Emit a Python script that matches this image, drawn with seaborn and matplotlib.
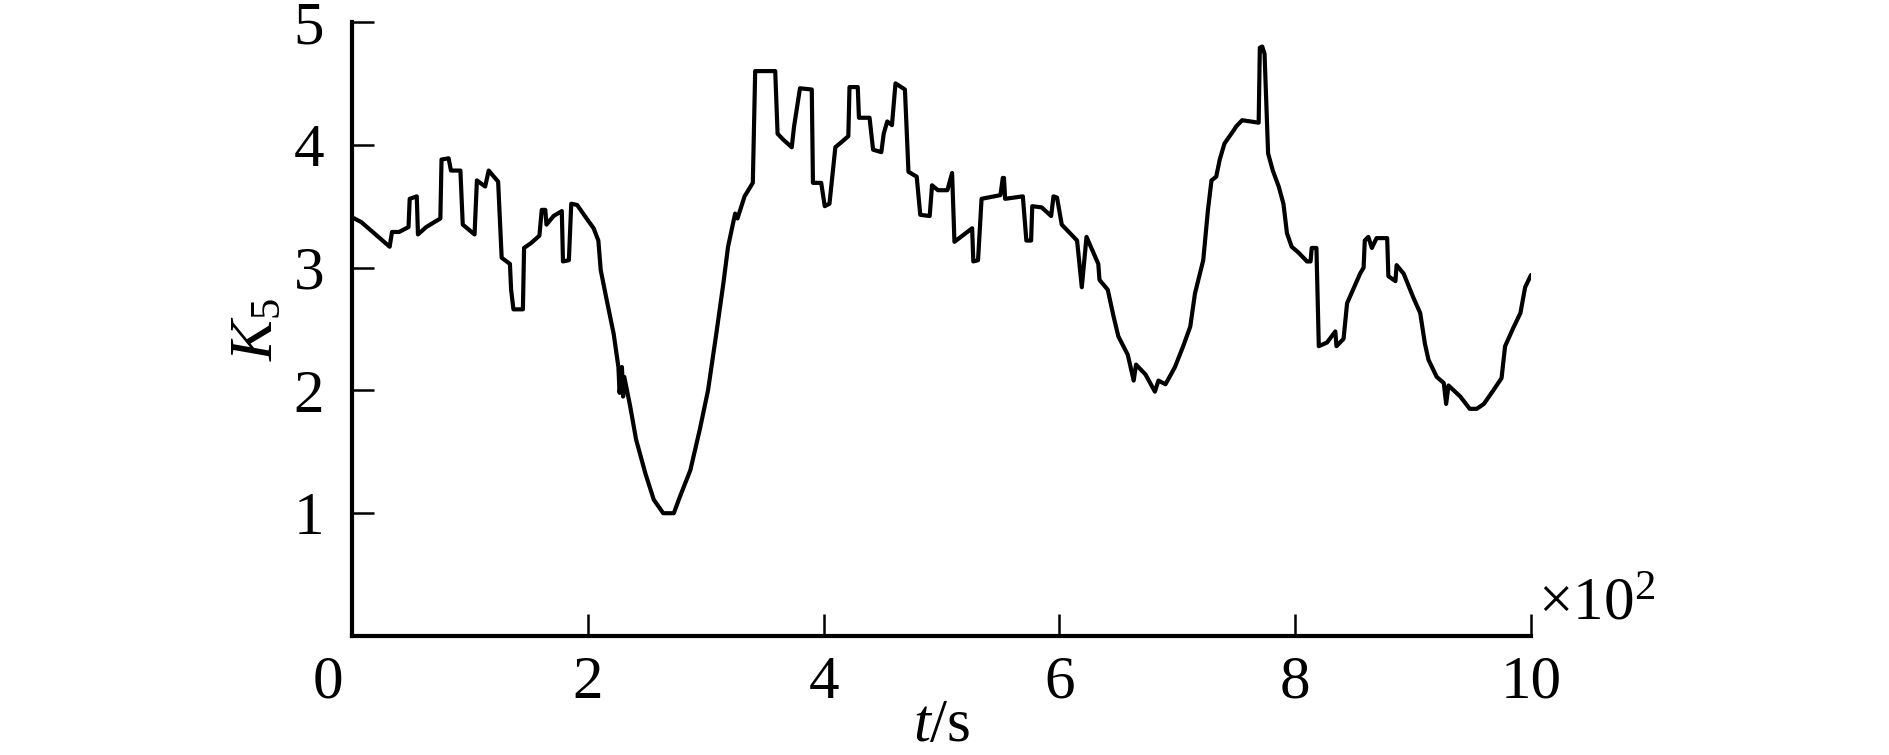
import matplotlib
matplotlib.use("Agg")
import matplotlib.pyplot as plt
import seaborn as sns
import pandas as pd

# time in units of 10^2 s
t_vals = [
    0.00, 0.08, 0.32, 0.34, 0.40, 0.48, 0.49, 0.55, 0.56, 0.63, 0.75, 0.76,
    0.82, 0.84, 0.92, 0.94, 1.04, 1.06, 1.13, 1.16, 1.24, 1.27, 1.34, 1.35,
    1.37, 1.45, 1.46, 1.52, 1.59, 1.61, 1.64, 1.65, 1.71, 1.78, 1.79, 1.84,
    1.86, 1.91, 1.99, 2.05, 2.09, 2.11, 2.16, 2.22, 2.26, 2.27,
    2.29, 2.30, 2.31, 2.36, 2.41, 2.49, 2.56, 2.64, 2.73, 2.78, 2.87, 2.95,
    3.02, 3.09, 3.15, 3.19, 3.25, 3.27, 3.33, 3.40, 3.42, 3.59, 3.61, 3.66,
    3.73, 3.75, 3.80, 3.90, 3.91, 3.98, 4.01, 4.05, 4.10, 4.15, 4.21, 4.22,
    4.29, 4.30, 4.39, 4.42, 4.49, 4.51, 4.54, 4.58, 4.61, 4.69, 4.72, 4.79,
    4.82, 4.90, 4.92, 4.97, 5.05, 5.09, 5.11, 5.26, 5.27, 5.31, 5.34, 5.50,
    5.52, 5.53, 5.54, 5.69, 5.72, 5.76, 5.77, 5.85, 5.93, 5.95, 5.98, 6.02,
    6.15, 6.19, 6.23, 6.33, 6.34, 6.41, 6.46, 6.50, 6.58, 6.63, 6.65, 6.73,
    6.81, 6.84, 6.90,
    6.98, 7.05, 7.11, 7.15, 7.22, 7.26, 7.29, 7.33, 7.36, 7.40, 7.48, 7.50,
    7.55, 7.69, 7.70, 7.72, 7.74, 7.77, 7.81, 7.86, 7.90, 7.93, 7.97, 8.03,
    8.10, 8.13, 8.14, 8.18, 8.20, 8.27, 8.34, 8.35, 8.41, 8.44, 8.49, 8.55,
    8.58, 8.59, 8.62, 8.65, 8.69, 8.78, 8.79, 8.85, 8.86, 8.92, 9.00, 9.06,
    9.10, 9.13, 9.20, 9.26, 9.28, 9.30, 9.40, 9.48, 9.54, 9.60, 9.68, 9.75,
    9.78, 9.85, 9.91, 9.95, 10.00,
]
k5_vals = [
    3.41, 3.37, 3.17, 3.29, 3.29, 3.33, 3.56, 3.58, 3.27, 3.33, 3.40, 3.88,
    3.89, 3.79, 3.79, 3.35, 3.27, 3.71, 3.66, 3.79, 3.70, 3.08, 3.03, 2.82,
    2.66, 2.66, 3.16, 3.20, 3.26, 3.47, 3.47, 3.35, 3.42, 3.46, 3.05, 3.06,
    3.52, 3.51, 3.40, 3.32, 3.22, 2.98, 2.74, 2.46, 2.19, 1.98,
    2.19, 1.95, 2.11, 1.87, 1.60, 1.32, 1.11, 1.00, 1.00, 1.13, 1.35, 1.68,
    2.00, 2.46, 2.87, 3.17, 3.44, 3.40, 3.58, 3.69, 4.60, 4.60, 4.09, 4.04,
    3.98, 4.15, 4.46, 4.45, 3.69, 3.69, 3.50, 3.52, 3.98, 4.02, 4.07, 4.47,
    4.47, 4.22, 4.22, 3.96, 3.94, 4.09, 4.19, 4.16, 4.50, 4.45, 3.78, 3.74,
    3.43, 3.42, 3.67, 3.63, 3.63, 3.77, 3.21, 3.32, 3.05, 3.06, 3.56, 3.59,
    3.73, 3.73, 3.56, 3.58, 3.22, 3.22, 3.50, 3.49, 3.42, 3.58, 3.57, 3.35,
    3.22, 2.84, 3.25, 3.03, 2.90, 2.82, 2.60, 2.44, 2.29, 2.08, 2.21, 2.13,
    1.99, 2.08, 2.05,
    2.19, 2.36, 2.52, 2.79, 3.06, 3.47, 3.71, 3.74, 3.88, 4.01, 4.12, 4.15,
    4.20, 4.18, 4.79, 4.80, 4.74, 3.93, 3.79, 3.66, 3.52, 3.28, 3.17, 3.12,
    3.05, 3.05, 3.16, 3.16, 2.36, 2.39, 2.48, 2.36, 2.42, 2.71, 2.82, 2.95,
    3.00, 3.22, 3.25, 3.16, 3.24, 3.24, 2.93, 2.89, 3.02, 2.95, 2.76, 2.63,
    2.38, 2.25, 2.11, 2.06, 1.89, 2.04, 1.95, 1.85, 1.85, 1.89, 2.00, 2.10,
    2.36, 2.51, 2.63, 2.84, 2.94,
]
x_ticks = [2, 4, 6, 8, 10]
y_ticks = [1, 2, 3, 4, 5]

sns.set_style("ticks")
plt.rcParams['font.family'] = ['Liberation Serif', 'DejaVu Serif']
plt.rcParams['mathtext.fontset'] = 'custom'
plt.rcParams['mathtext.rm'] = 'Liberation Serif'
plt.rcParams['mathtext.it'] = 'Liberation Serif:italic'
plt.rcParams['text.color'] = 'black'

df = pd.DataFrame({"t": t_vals, "K5": k5_vals})

fig = plt.figure(figsize=(18.89, 7.55), dpi=100)
ax = fig.add_axes([0.1863, 0.1576, 0.6242, 0.8133])

sns.lineplot(data=df, x="t", y="K5", ax=ax, color="black", linewidth=3.0,
             sort=False, estimator=None)

ax.set_xlim(0, 10)
ax.set_ylim(0, 5)
ax.spines['top'].set_visible(False)
ax.spines['right'].set_visible(False)
ax.spines['left'].set_linewidth(3)
ax.spines['bottom'].set_linewidth(3)
ax.spines['left'].set_color('black')
ax.spines['bottom'].set_color('black')

ax.set_xticks(x_ticks)
ax.set_yticks(y_ticks)
ax.tick_params(direction='in', length=16, width=1.8, labelsize=44,
               color='black', labelcolor='black')
ax.tick_params(axis='y', pad=20)
ax.tick_params(axis='x', pad=14)
ax.set_xlabel("")
ax.set_ylabel("")

# shared origin label
ax.annotate("0", xy=(0, 0), xycoords='axes fraction', xytext=(-17, -14),
            textcoords='offset points', ha='center', va='top', fontsize=44,
            color='black')
ax.text(1.006, 0.005, "×10$^2$", transform=ax.transAxes, ha='left',
        va='bottom', fontsize=44, color='black')

fig.text(0.4984, 0.018, "$t$/s", ha='center', va='baseline', fontsize=44,
         color='black')
fig.text(0.136, 0.564, "$K_5$", ha='center', va='center', rotation=90,
         fontsize=44, color='black')

fig.savefig("out.png", dpi=100)
